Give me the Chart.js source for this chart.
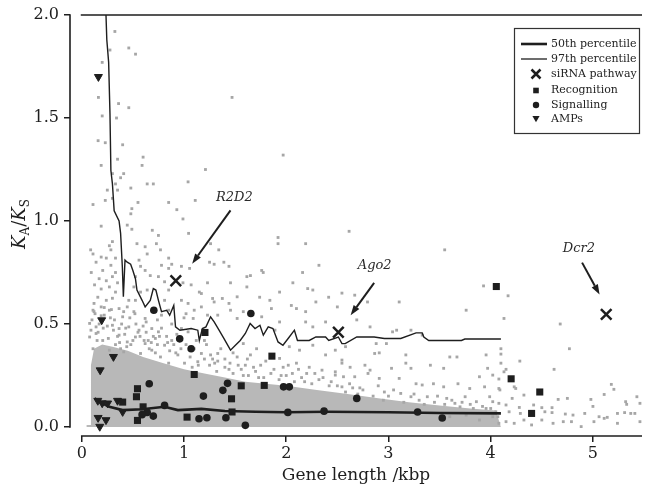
<!DOCTYPE html>
<html>
<head>
<meta charset="utf-8">
<script src="https://cdn.jsdelivr.net/npm/chart.js@4.4.0/dist/chart.umd.min.js"></script>
<style>
  html, body { margin: 0; padding: 0; background: #fff; }
</style>
</head>
<body>
<canvas id="chart" width="652" height="486"></canvas>
<script>
// axis ticks
const xTicks = [0, 1, 2, 3, 4, 5];
const yTicks = [0, 0.5, 1.0, 1.5, 2.0];

// individual genes (gene length kbp, KA/KS)
const geneLen = [
  0.324, 0.276, 0.46, 0.526, 0.20, 0.163, 0.36, 0.46, 0.20, 0.34,
  0.16, 0.23, 0.40, 0.60, 0.59, 0.19, 0.35, 0.30, 0.41, 0.38,
  1.21, 0.64, 0.70, 0.33, 1.04, 0.25, 0.35, 0.48, 0.11, 0.23,
  0.30, 0.55, 0.85, 1.11, 0.49, 0.93, 1.47, 1.97, 1.92, 0.99,
  1.045, 0.69, 0.75, 2.615, 3.55,
  0.48, 0.19, 0.445, 0.49, 0.30, 0.27, 0.285, 0.54, 0.62, 0.73,
  0.77, 0.087, 0.11, 0.19, 0.24, 0.33, 0.64, 0.56, 0.85, 0.14,
  0.285, 0.205, 0.093, 0.33, 0.575, 0.62, 0.78, 0.85, 0.975, 1.055,
  0.17, 0.24, 0.30, 0.35, 0.525, 0.67, 0.75, 0.81, 0.99, 1.07,
  0.125, 0.19, 0.27, 0.33, 0.51, 0.575, 0.64, 0.85, 1.15, 0.157,
  0.24, 0.30, 0.46, 0.525, 0.81, 0.975, 1.04, 1.10, 1.17, 0.19,
  0.27, 0.365, 0.445, 0.51, 0.85, 1.02, 0.11, 0.22, 0.40, 0.62,
  0.78, 1.09, 0.077, 0.14, 0.30, 0.365, 0.46, 0.56, 0.685, 0.75,
  0.975, 1.04,
  1.26, 1.39, 1.44, 1.775, 1.92, 1.935, 2.21, 2.29, 1.17, 1.28,
  1.52, 2.05, 0.88, 2.32, 2.19,
  1.34, 1.25, 1.295, 1.615, 1.65, 1.76, 2.16, 1.455, 1.23, 1.615,
  2.065, 2.26, 2.545, 1.295, 1.375, 1.44, 1.74, 1.84, 2.415, 1.455,
  1.58, 1.855, 2.10, 2.19, 2.50, 1.23, 1.33, 1.52, 1.76, 1.935,
  2.19, 2.385, 2.26, 1.89, 1.20, 1.58, 1.71, 2.03, 2.13, 2.26,
  2.385, 2.48, 2.545, 1.33, 1.935, 2.10, 2.225, 2.35, 2.48, 1.65,
  1.52, 1.97, 2.56,
  3.93, 2.67, 2.795, 3.105, 3.76, 4.13, 2.69, 2.82, 3.08, 3.04,
  3.22, 3.33, 2.88, 2.98, 2.58, 2.865, 2.91, 3.17, 3.60, 3.67,
  3.955, 2.545, 2.625, 2.77, 2.82, 3.03, 3.17, 3.22, 3.41, 3.54,
  3.97, 4.10, 3.89, 4.02, 2.48, 2.67, 2.80, 2.91, 3.105, 3.27,
  3.33, 3.44, 3.54, 3.68, 3.795, 3.94, 4.08, 2.545, 2.75, 2.96,
  3.12, 3.22, 3.38, 3.57, 3.75, 3.86, 3.99, 4.08, 3.70, 3.83,
  3.955, 3.76, 3.89, 4.02, 4.08, 3.60,
  4.17, 4.68, 4.77, 4.10, 4.10, 4.285, 4.62, 4.15, 4.13, 4.08,
  4.23, 4.245, 5.18, 5.205, 4.09, 4.325, 5.11, 5.43, 4.21, 4.66,
  4.75, 4.98, 5.32, 5.33, 4.02, 4.15, 4.28, 4.42, 4.50, 4.60,
  5.00, 4.05, 4.18, 4.29, 4.53, 4.60, 4.73, 4.805, 4.92, 5.06,
  5.14, 5.24, 5.31, 5.37, 5.41, 4.07, 4.15, 4.23, 4.325, 4.40,
  4.50, 4.61, 4.71, 4.79, 4.885, 5.01, 5.11, 5.24, 5.46, 5.46,
  0.077, 0.14, 0.205, 0.365, 0.445, 0.525, 0.62, 0.72, 0.81, 0.88,
  0.11, 0.27, 0.41, 0.575, 0.685, 0.77, 0.94, 1.17, 1.135, 1.005,
  0.85,
  1.25, 1.32, 1.40, 1.48, 1.56, 1.63, 1.70, 1.78, 1.85, 1.93,
  2.00, 2.08, 2.15, 2.25, 2.32, 2.42, 1.28, 1.45, 1.60, 1.75,
  2.20, 2.90, 3.00, 3.30, 3.45, 3.65, 2.65, 2.70
];
const geneKaKs = [
  1.92, 1.83, 1.84, 1.81, 1.77, 1.60, 1.57, 1.55, 1.51, 1.50,
  1.39, 1.38, 1.37, 1.31, 1.27, 1.27, 1.30, 1.23, 1.23, 1.21,
  1.25, 1.18, 1.18, 1.18, 1.19, 1.15, 1.15, 1.16, 1.08, 1.10,
  1.11, 1.09, 1.09, 1.10, 1.06, 1.055, 1.60, 1.32, 0.92, 1.01,
  0.94, 0.955, 0.93, 0.95, 0.86,
  1.035, 0.975, 0.98, 0.96, 0.90, 0.88, 0.86, 0.89, 0.875, 0.89,
  0.86, 0.86, 0.84, 0.825, 0.82, 0.82, 0.84, 0.81, 0.82, 0.80,
  0.785, 0.76, 0.75, 0.75, 0.78, 0.76, 0.785, 0.77, 0.78, 0.77,
  0.72, 0.71, 0.73, 0.70, 0.73, 0.735, 0.73, 0.705, 0.70, 0.69,
  0.69, 0.67, 0.68, 0.655, 0.68, 0.655, 0.665, 0.665, 0.655, 0.63,
  0.615, 0.625, 0.615, 0.615, 0.615, 0.615, 0.60, 0.567, 0.583, 0.583,
  0.567, 0.575, 0.583, 0.56, 0.567, 0.55, 0.567, 0.543, 0.535, 0.527,
  0.543, 0.527, 0.503, 0.486, 0.494, 0.478, 0.486, 0.47, 0.478, 0.462,
  0.478, 0.462,
  0.89, 0.80, 0.78, 0.75, 0.89, 0.655, 0.672, 0.607, 0.648, 0.624,
  0.632, 0.59, 0.79, 0.785, 0.89,
  0.86, 0.80, 0.79, 0.73, 0.735, 0.76, 0.75, 0.70, 0.70, 0.68,
  0.70, 0.665, 0.65, 0.607, 0.624, 0.60, 0.63, 0.615, 0.63, 0.567,
  0.56, 0.575, 0.575, 0.56, 0.583, 0.543, 0.543, 0.527, 0.535, 0.51,
  0.51, 0.51, 0.486, 0.47, 0.42, 0.405, 0.38, 0.39, 0.373, 0.397,
  0.35, 0.373, 0.325, 0.357, 0.333, 0.31, 0.29, 0.276, 0.268, 0.35,
  0.34, 0.29, 0.244,
  0.685, 0.64, 0.607, 0.607, 0.567, 0.527, 0.52, 0.486, 0.47, 0.462,
  0.47, 0.446, 0.405, 0.405, 0.39, 0.357, 0.36, 0.35, 0.34, 0.34,
  0.35, 0.31, 0.29, 0.30, 0.276, 0.285, 0.31, 0.285, 0.30, 0.285,
  0.285, 0.31, 0.244, 0.252, 0.252, 0.244, 0.26, 0.236, 0.236, 0.21,
  0.204, 0.21, 0.195, 0.21, 0.187, 0.195, 0.187, 0.195, 0.18, 0.17,
  0.163, 0.147, 0.147, 0.139, 0.147, 0.123, 0.147, 0.115, 0.098, 0.09,
  0.09, 0.058, 0.034, 0.05, 0.018, 0.05,
  0.637, 0.50, 0.38, 0.38, 0.354, 0.32, 0.28, 0.28, 0.268, 0.233,
  0.195, 0.187, 0.207, 0.183, 0.18, 0.155, 0.158, 0.147, 0.139, 0.134,
  0.139, 0.134, 0.123, 0.11, 0.123, 0.107, 0.095, 0.107, 0.094, 0.094,
  0.10, 0.074, 0.074, 0.066, 0.074, 0.07, 0.063, 0.058, 0.066, 0.05,
  0.047, 0.066, 0.07, 0.066, 0.066, 0.05, 0.026, 0.018, 0.034, 0.01,
  0.034, 0.018, 0.026, 0.026, 0.002, 0.026, 0.042, 0.018, 0.026, 0.115,
  0.437, 0.454, 0.42, 0.446, 0.413, 0.437, 0.405, 0.43, 0.397, 0.42,
  0.38, 0.373, 0.365, 0.357, 0.373, 0.34, 0.35, 0.357, 0.317, 0.31,
  0.31,
  0.30, 0.27, 0.29, 0.26, 0.28, 0.25, 0.27, 0.24, 0.26, 0.23,
  0.25, 0.22, 0.24, 0.21, 0.23, 0.20, 0.33, 0.31, 0.30, 0.30,
  0.26, 0.20, 0.15, 0.13, 0.12, 0.115, 0.19, 0.16
];

// crowded genes along the top of the dense mass
const crowdLen = [
  0.10, 0.13, 0.17, 0.22, 0.25, 0.28, 0.12, 0.16,
  0.32, 0.35, 0.39, 0.42, 0.47, 0.50, 0.53, 0.57, 0.60, 0.44, 0.33, 0.38,
  0.63, 0.66, 0.70, 0.74, 0.78, 0.83, 0.86, 0.90, 0.93, 0.97, 0.72, 0.65,
  1.02, 1.06, 1.10, 1.14, 1.22, 1.26, 1.30, 1.36, 1.40, 1.44, 1.48, 1.08,
  1.53, 1.58, 1.62, 1.68, 1.73, 1.80, 1.88, 1.95, 2.02, 2.06, 2.12, 2.18, 2.28, 2.36, 2.44, 2.50,
  2.58, 2.62, 2.72, 2.85, 2.95, 3.05, 3.15, 3.25, 3.35, 3.48, 3.55, 3.62, 3.72, 3.80, 3.92, 4.00,
  0.09, 0.15, 0.21, 0.26, 0.31, 0.37, 0.43, 0.48, 0.55, 0.61, 0.68, 0.76, 0.84, 0.92,
  0.12, 0.19, 0.29, 0.41, 0.52, 0.63, 0.74, 0.88, 1.00, 1.12, 1.20, 1.33
];
const crowdKaKs = [
  0.52, 0.55, 0.50, 0.58, 0.49, 0.53, 0.60, 0.46,
  0.52, 0.44, 0.50, 0.45, 0.53, 0.42, 0.50, 0.44, 0.49, 0.39, 0.40, 0.38,
  0.46, 0.38, 0.44, 0.40, 0.48, 0.44, 0.37, 0.40, 0.45, 0.38, 0.36, 0.42,
  0.40, 0.34, 0.38, 0.30, 0.40, 0.35, 0.31, 0.38, 0.33, 0.28, 0.36, 0.29,
  0.30, 0.25, 0.33, 0.29, 0.24, 0.32, 0.28, 0.25, 0.30, 0.26, 0.28, 0.22, 0.26, 0.24, 0.22, 0.20,
  0.17, 0.21, 0.19, 0.15, 0.13, 0.18, 0.12, 0.16, 0.11, 0.15, 0.11, 0.13, 0.12, 0.11, 0.10, 0.09,
  0.47, 0.42, 0.48, 0.43, 0.47, 0.41, 0.48, 0.40, 0.46, 0.42, 0.41, 0.44, 0.41, 0.36,
  0.56, 0.54, 0.57, 0.56, 0.55, 0.51, 0.52, 0.50, 0.53, 0.42, 0.33, 0.32
];

// upper edge of the solid mass of genes
const denseLen = [0.045, 0.085, 0.09, 0.12, 0.2, 0.3, 0.45, 0.6, 0.8, 1.0, 1.2, 1.4, 1.6, 1.8, 2.0, 2.3, 2.6, 2.9, 3.2, 3.5, 3.8, 4.05, 4.1];
const denseKaKs = [0.01, 0.01, 0.30, 0.38, 0.40, 0.39, 0.37, 0.34, 0.31, 0.28, 0.26, 0.24, 0.22, 0.21, 0.20, 0.18, 0.16, 0.14, 0.12, 0.105, 0.09, 0.08, 0.0];

// 50th percentile
const p50Len = [0.125, 0.18, 0.27, 0.4, 0.59, 0.81, 0.94, 1.17, 1.4, 1.7, 2.0, 2.4, 3.0, 3.5, 4.1];
const p50KaKs = [0.139, 0.12, 0.098, 0.082, 0.086, 0.098, 0.082, 0.088, 0.078, 0.074, 0.072, 0.074, 0.072, 0.068, 0.066];

// 97th percentile
const p97Len = [
  0.237, 0.245, 0.263, 0.276, 0.285, 0.30, 0.317, 0.365, 0.38, 0.397,
  0.407, 0.423, 0.445, 0.478, 0.50, 0.525, 0.54, 0.59, 0.62, 0.67,
  0.70, 0.725, 0.75, 0.78, 0.83, 0.86, 0.90, 0.917, 0.96, 1.07,
  1.135, 1.15, 1.18, 1.215, 1.26, 1.295, 1.343, 1.39, 1.455, 1.503,
  1.55, 1.60, 1.647, 1.695, 1.743, 1.776, 1.824, 1.87, 1.92, 1.968,
  2.03, 2.08, 2.11, 2.225, 2.29, 2.385, 2.416, 2.51, 2.545, 2.577,
  2.69, 2.86, 2.96, 3.12, 3.27, 3.33, 3.346, 3.394, 3.54, 3.714,
  3.747, 4.10
];
const p97KaKs = [
  2.0, 1.88, 1.77, 1.52, 1.245, 1.18, 1.05, 1.0, 0.94, 0.777,
  0.632, 0.81, 0.80, 0.79, 0.76, 0.72, 0.665, 0.615, 0.583, 0.615,
  0.672, 0.665, 0.615, 0.56, 0.567, 0.543, 0.59, 0.486, 0.47, 0.478,
  0.47, 0.42, 0.478, 0.486, 0.535, 0.51, 0.47, 0.43, 0.373, 0.397,
  0.42, 0.454, 0.503, 0.478, 0.494, 0.446, 0.486, 0.478, 0.413, 0.397,
  0.437, 0.47, 0.42, 0.42, 0.437, 0.437, 0.42, 0.437, 0.405, 0.405,
  0.437, 0.437, 0.43, 0.43, 0.457, 0.457, 0.437, 0.42, 0.42, 0.42,
  0.427, 0.427
];

// highlighted genes
const sirnaNames = ['R2D2', 'Ago2', 'Dcr2'];
const sirnaLen = [0.92, 2.51, 5.13];
const sirnaKaKs = [0.71, 0.46, 0.547];

const recogLen = [1.205, 1.86, 1.10, 1.56, 1.785, 0.545, 0.535, 1.465, 0.40, 0.60, 1.47, 1.03, 0.545, 4.055, 4.20, 4.48, 4.40];
const recogKaKs = [0.459, 0.344, 0.255, 0.20, 0.202, 0.186, 0.147, 0.137, 0.121, 0.098, 0.073, 0.048, 0.032, 0.682, 0.234, 0.17, 0.066];

const signalLen = [0.705, 1.654, 0.958, 1.07, 0.66, 1.426, 1.38, 1.974, 2.03, 1.19, 0.81, 0.64, 0.70, 1.147, 1.224, 1.41, 1.60, 2.016, 2.37, 2.69, 3.285, 3.526, 0.59];
const signalKaKs = [0.567, 0.551, 0.428, 0.38, 0.21, 0.212, 0.178, 0.195, 0.195, 0.15, 0.105, 0.071, 0.053, 0.04, 0.045, 0.045, 0.008, 0.071, 0.077, 0.139, 0.073, 0.044, 0.06];

const ampLen = [0.163, 0.195, 0.31, 0.18, 0.157, 0.20, 0.253, 0.35, 0.40, 0.16, 0.237, 0.176];
const ampKaKs = [1.70, 0.519, 0.341, 0.276, 0.128, 0.116, 0.115, 0.128, 0.074, 0.045, 0.034, 0.002];

// labels with arrows for the siRNA genes (text centre, arrow start, arrow tip)
const notes = [
  { text: sirnaNames[0], tx: 1.493, ty: 1.112, x0: 1.455, y0: 1.052, x1: 1.08, y1: 0.793 },
  { text: sirnaNames[1], tx: 2.865, ty: 0.785, x0: 2.86, y0: 0.70, x1: 2.63, y1: 0.543 },
  { text: sirnaNames[2], tx: 4.862, ty: 0.866, x0: 4.894, y0: 0.798, x1: 5.065, y1: 0.643 }
];

const serif = "'DejaVu Serif', 'Liberation Serif', serif";
const ink = '#1e1e1e';
const dotGrey = '#a6a6a6';

const pts = (xs, ys) => xs.map((x, i) => ({ x: x, y: ys[i] }));

function drawMarker(ctx, kind, x, y, r) {
  ctx.save();
  ctx.fillStyle = ink;
  ctx.strokeStyle = ink;
  ctx.beginPath();
  if (kind === 'cross') {
    ctx.lineWidth = 2.5;
    ctx.moveTo(x - r, y - r); ctx.lineTo(x + r, y + r);
    ctx.moveTo(x + r, y - r); ctx.lineTo(x - r, y + r);
    ctx.stroke();
  } else if (kind === 'square') {
    ctx.fillRect(x - r, y - r, 2 * r, 2 * r);
  } else if (kind === 'circle') {
    ctx.arc(x, y, r, 0, Math.PI * 2);
    ctx.fill();
  } else {
    ctx.moveTo(x - r, y - r * 0.8);
    ctx.lineTo(x + r, y - r * 0.8);
    ctx.lineTo(x, y + r * 0.9);
    ctx.closePath();
    ctx.fill();
  }
  ctx.restore();
}

const framePlugin = {
  id: 'frame',
  afterDraw(chart) {
    const { ctx, chartArea: a, scales: { x, y } } = chart;
    const x0 = x.getPixelForValue(0);
    const y0 = y.getPixelForValue(0);
    const y2 = y.getPixelForValue(2);
    ctx.save();

    // axis lines
    ctx.strokeStyle = ink;
    ctx.lineWidth = 1.6;
    ctx.beginPath();
    ctx.moveTo(a.left, y0 + 0.8);
    ctx.lineTo(a.left, y2 - 0.8);
    ctx.moveTo(x0 - 0.8, a.bottom);
    ctx.lineTo(a.right, a.bottom);
    ctx.moveTo(x0 - 1, y2);
    ctx.lineTo(a.right, y2);
    ctx.stroke();

    // y title: K_A / K_S
    ctx.save();
    ctx.translate(19, 224);
    ctx.rotate(-Math.PI / 2);
    ctx.fillStyle = ink;
    ctx.textBaseline = 'alphabetic';
    const big = 'italic 18px ' + serif;
    const small = '12px ' + serif;
    const parts = [
      { t: 'K', f: big, dy: 0 },
      { t: 'A', f: small, dy: 4 },
      { t: '/', f: '18px ' + serif, dy: 0 },
      { t: 'K', f: big, dy: 0 },
      { t: 'S', f: small, dy: 4 }
    ];
    let total = 0;
    parts.forEach(p => { ctx.font = p.f; p.w = ctx.measureText(p.t).width; total += p.w; });
    let cx = -total / 2;
    parts.forEach(p => { ctx.font = p.f; ctx.fillText(p.t, cx, 6 + p.dy); cx += p.w; });
    ctx.restore();

    // annotations
    ctx.strokeStyle = ink;
    ctx.font = 'italic 13px ' + serif;
    ctx.textAlign = 'center';
    ctx.textBaseline = 'middle';
    notes.forEach(n => {
      ctx.fillStyle = '#2a2a2a';
      ctx.fillText(n.text, x.getPixelForValue(n.tx), y.getPixelForValue(n.ty));
      const sx = x.getPixelForValue(n.x0), sy = y.getPixelForValue(n.y0);
      const ex = x.getPixelForValue(n.x1), ey = y.getPixelForValue(n.y1);
      const ang = Math.atan2(ey - sy, ex - sx);
      const head = 10, hw = 3.5;
      const bx = ex - Math.cos(ang) * head, by = ey - Math.sin(ang) * head;
      ctx.lineWidth = 2;
      ctx.beginPath();
      ctx.moveTo(sx, sy);
      ctx.lineTo(bx, by);
      ctx.stroke();
      ctx.beginPath();
      ctx.moveTo(ex, ey);
      ctx.lineTo(bx - Math.sin(ang) * hw, by + Math.cos(ang) * hw);
      ctx.lineTo(bx + Math.sin(ang) * hw, by - Math.cos(ang) * hw);
      ctx.closePath();
      ctx.fillStyle = ink;
      ctx.fill();
    });

    // legend box
    ctx.fillStyle = '#fff';
    ctx.fillRect(514, 28, 125, 105);
    ctx.lineWidth = 1.2;
    ctx.strokeStyle = '#333';
    ctx.strokeRect(514.5, 28.5, 125, 105);
    const rows = [
      { label: '50th percentile', kind: 'line', w: 2.6, y: 44 },
      { label: '97th percentile', kind: 'line', w: 1.3, y: 59 },
      { label: 'siRNA pathway', kind: 'cross', r: 4.5, y: 74 },
      { label: 'Recognition', kind: 'square', r: 2.8, y: 90.5 },
      { label: 'Signalling', kind: 'circle', r: 3.2, y: 105 },
      { label: 'AMPs', kind: 'tri', r: 3.6, y: 119 }
    ];
    ctx.font = '11px ' + serif;
    ctx.textAlign = 'left';
    ctx.textBaseline = 'middle';
    rows.forEach(r => {
      if (r.kind === 'line') {
        ctx.strokeStyle = ink;
        ctx.lineWidth = r.w;
        ctx.beginPath();
        ctx.moveTo(521, r.y);
        ctx.lineTo(547, r.y);
        ctx.stroke();
      } else {
        drawMarker(ctx, r.kind, 536, r.y, r.r);
      }
      ctx.fillStyle = '#222';
      ctx.fillText(r.label, 551, r.y);
    });
    ctx.restore();
  }
};

const tickFont = { family: serif, size: 16 };

new Chart(document.getElementById('chart'), {
  type: 'scatter',
  data: {
    datasets: [
      {
        label: 'AMPs',
        data: pts(ampLen, ampKaKs),
        pointStyle: 'triangle',
        rotation: 180,
        pointRadius: 4.6,
        backgroundColor: ink,
        borderColor: ink,
        borderWidth: 1,
        order: 0
      },
      {
        label: 'Signalling',
        data: pts(signalLen, signalKaKs),
        pointStyle: 'circle',
        pointRadius: 3.8,
        backgroundColor: ink,
        borderColor: ink,
        borderWidth: 0,
        order: 0
      },
      {
        label: 'Recognition',
        data: pts(recogLen, recogKaKs),
        pointStyle: 'rect',
        pointRadius: 5,
        backgroundColor: ink,
        borderColor: ink,
        borderWidth: 0,
        order: 0
      },
      {
        label: 'siRNA pathway',
        data: pts(sirnaLen, sirnaKaKs),
        pointStyle: 'crossRot',
        pointRadius: 7.5,
        borderColor: ink,
        borderWidth: 2.5,
        order: 0
      },
      {
        type: 'line',
        label: '50th percentile',
        data: pts(p50Len, p50KaKs),
        borderColor: ink,
        borderWidth: 2.6,
        pointRadius: 0,
        fill: false,
        tension: 0,
        order: 1
      },
      {
        type: 'line',
        label: '97th percentile',
        data: pts(p97Len, p97KaKs),
        borderColor: ink,
        borderWidth: 1.4,
        pointRadius: 0,
        fill: false,
        tension: 0,
        order: 1
      },
      {
        label: 'genes',
        data: pts(geneLen, geneKaKs).concat(pts(crowdLen, crowdKaKs)),
        pointStyle: 'rect',
        pointRadius: 2,
        backgroundColor: dotGrey,
        borderWidth: 0,
        order: 5
      },
      {
        type: 'line',
        label: 'dense',
        data: pts(denseLen, denseKaKs),
        borderWidth: 0,
        borderColor: 'rgba(0,0,0,0)',
        backgroundColor: '#b8b8b8',
        pointRadius: 0,
        fill: 'origin',
        tension: 0,
        order: 6
      }
    ]
  },
  options: {
    responsive: false,
    animation: false,
    events: [],
    layout: { padding: { top: 15, right: 0, bottom: 0, left: 0 } },
    plugins: {
      legend: { display: false },
      tooltip: { enabled: false }
    },
    scales: {
      x: {
        type: 'linear',
        min: -0.115,
        max: 5.48,
        afterBuildTicks: s => { s.ticks = xTicks.map(v => ({ value: v })); },
        afterFit: s => { s.height = 50; },
        grid: { drawOnChartArea: false, drawTicks: true, tickLength: 6, color: ink, lineWidth: 1.5 },
        border: { display: false },
        ticks: { font: tickFont, color: ink, padding: 2, maxRotation: 0, autoSkip: false, callback: v => String(v) },
        title: { display: true, text: 'Gene length /kbp', font: { family: serif, size: 17 }, color: ink, padding: { top: 0, bottom: 0 } }
      },
      y: {
        type: 'linear',
        min: -0.0436,
        max: 2.0,
        afterBuildTicks: s => { s.ticks = yTicks.map(v => ({ value: v })); },
        afterFit: s => { s.width = 70; },
        grid: { drawOnChartArea: false, drawTicks: true, tickLength: 6, color: ink, lineWidth: 1.5 },
        border: { display: false },
        ticks: { font: tickFont, color: ink, padding: 5, autoSkip: false, callback: v => Number(v).toFixed(1) }
      }
    }
  },
  plugins: [framePlugin]
});
</script>
</body>
</html>
